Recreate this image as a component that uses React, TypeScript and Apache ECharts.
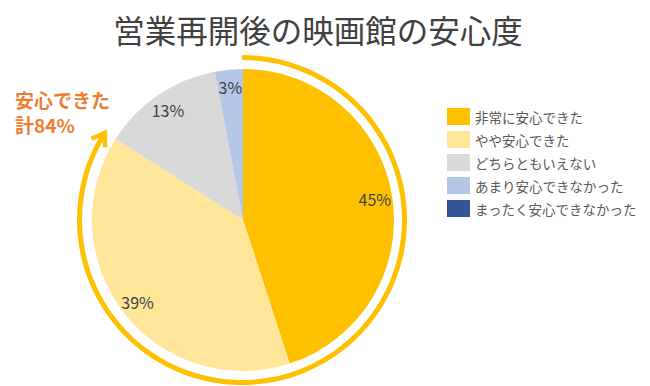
import React, { useEffect, useRef } from "react";
import * as echarts from "echarts";

const titleText = "営業再開後の映画館の安心度";
const categories = [
  "非常に安心できた",
  "やや安心できた",
  "どちらともいえない",
  "あまり安心できなかった",
  "まったく安心できなかった",
];
const values = [45, 39, 13, 3, 0];
const colors = ["#FFC000", "#FFE699", "#D9D9D9", "#B4C7E7", "#2F5597"];
const reassuredCount = 2;
const annotationLines = ["安心できた", "計84%"];

const FONT = "'Noto Sans CJK JP', 'Noto Sans', sans-serif";

export default function App() {
  const ref = useRef<HTMLDivElement>(null);
  useEffect(() => {
    if (!ref.current) return;
    const chart = echarts.init(ref.current, undefined, { renderer: "svg" });
    const total = values.reduce((a, b) => a + b, 0);
    const reassured = values.slice(0, reassuredCount).reduce((a, b) => a + b, 0);
    const cx = 243;
    const cy = 220;
    const R = 151;
    const ringR = 162.5;
    const pct = reassured / total;
    const th = ((-90 + pct * 360) * Math.PI) / 180;
    const tip = [cx - 1 + ringR * Math.cos(th), cy + ringR * Math.sin(th)];
    const t = [-Math.sin(th), Math.cos(th)];
    const n = [Math.cos(th), Math.sin(th)];
    const L = 12;
    const W = 8;
    const wing1 = [tip[0] - L * t[0] + W * n[0], tip[1] - L * t[1] + W * n[1]];
    const wing2 = [tip[0] - L * t[0] - W * n[0], tip[1] - L * t[1] - W * n[1]];

    const data = categories.map((name, i) => ({
      name,
      value: values[i],
      itemStyle: { color: colors[i] },
    }));

    chart.setOption({
      animation: false,
      textStyle: { fontFamily: FONT },
      legend: {
        orient: "vertical",
        left: 442,
        top: 103,
        itemWidth: 23,
        itemHeight: 17,
        itemGap: 6,
        icon: "rect",
        selectedMode: false,
        textStyle: { fontSize: 13.5, color: "#595959", fontFamily: FONT },
        data: categories.map((name, i) => ({ name, itemStyle: { color: colors[i] } })),
      },
      series: [
        {
          type: "pie",
          center: [cx, cy],
          radius: [0, R],
          startAngle: 90,
          clockwise: true,
          silent: true,
          label: { show: false },
          labelLine: { show: false },
          data,
        },
        {
          type: "pie",
          center: [cx, cy],
          radius: [110, R],
          startAngle: 90,
          clockwise: true,
          silent: true,
          itemStyle: { color: "rgba(0,0,0,0)" },
          label: {
            show: true,
            position: "inside",
            fontSize: 16,
            color: "#404040",
            fontFamily: FONT,
            formatter: (p: any) => (p.value > 0 ? `${p.value}%` : ""),
          },
          labelLine: { show: false },
          data: categories.map((name, i) => ({
            name,
            value: values[i],
            itemStyle: { color: "rgba(0,0,0,0)" },
          })),
        },
        {
          type: "pie",
          center: [cx - 1, cy],
          radius: [ringR - 2.5, ringR + 2.5],
          startAngle: 90,
          clockwise: true,
          silent: true,
          label: { show: false },
          labelLine: { show: false },
          data: [
            { name: "ring", value: reassured, itemStyle: { color: "#FFC000" } },
            { name: "rest", value: total - reassured, itemStyle: { color: "rgba(0,0,0,0)" } },
          ],
        },
      ],
      graphic: [
        {
          type: "text",
          x: 318,
          y: 29,
          style: {
            text: titleText,
            fontSize: 31.5,
            fontFamily: FONT,
            fill: "#404040",
            textAlign: "center",
            textVerticalAlign: "middle",
          },
        },
        {
          type: "text",
          x: 15,
          y: 99,
          style: {
            text: annotationLines[0],
            fontSize: 19,
            fontWeight: "bold",
            fontFamily: FONT,
            fill: "#ED7D31",
            textAlign: "left",
            textVerticalAlign: "middle",
          },
        },
        {
          type: "text",
          x: 15,
          y: 124,
          style: {
            text: annotationLines[1],
            fontSize: 19,
            fontWeight: "bold",
            fontFamily: FONT,
            fill: "#ED7D31",
            textAlign: "left",
            textVerticalAlign: "middle",
          },
        },
        {
          type: "polyline",
          shape: { points: [wing1, tip, wing2] },
          style: { stroke: "#FFC000", lineWidth: 4.5, fill: null, lineJoin: "miter", lineCap: "butt" },
        },
      ],
    });
    return () => chart.dispose();
  }, []);
  return (
    <div
      ref={ref}
      style={{ position: "fixed", left: 0, top: 0, width: 650, height: 386, background: "#fff" }}
    />
  );
}
